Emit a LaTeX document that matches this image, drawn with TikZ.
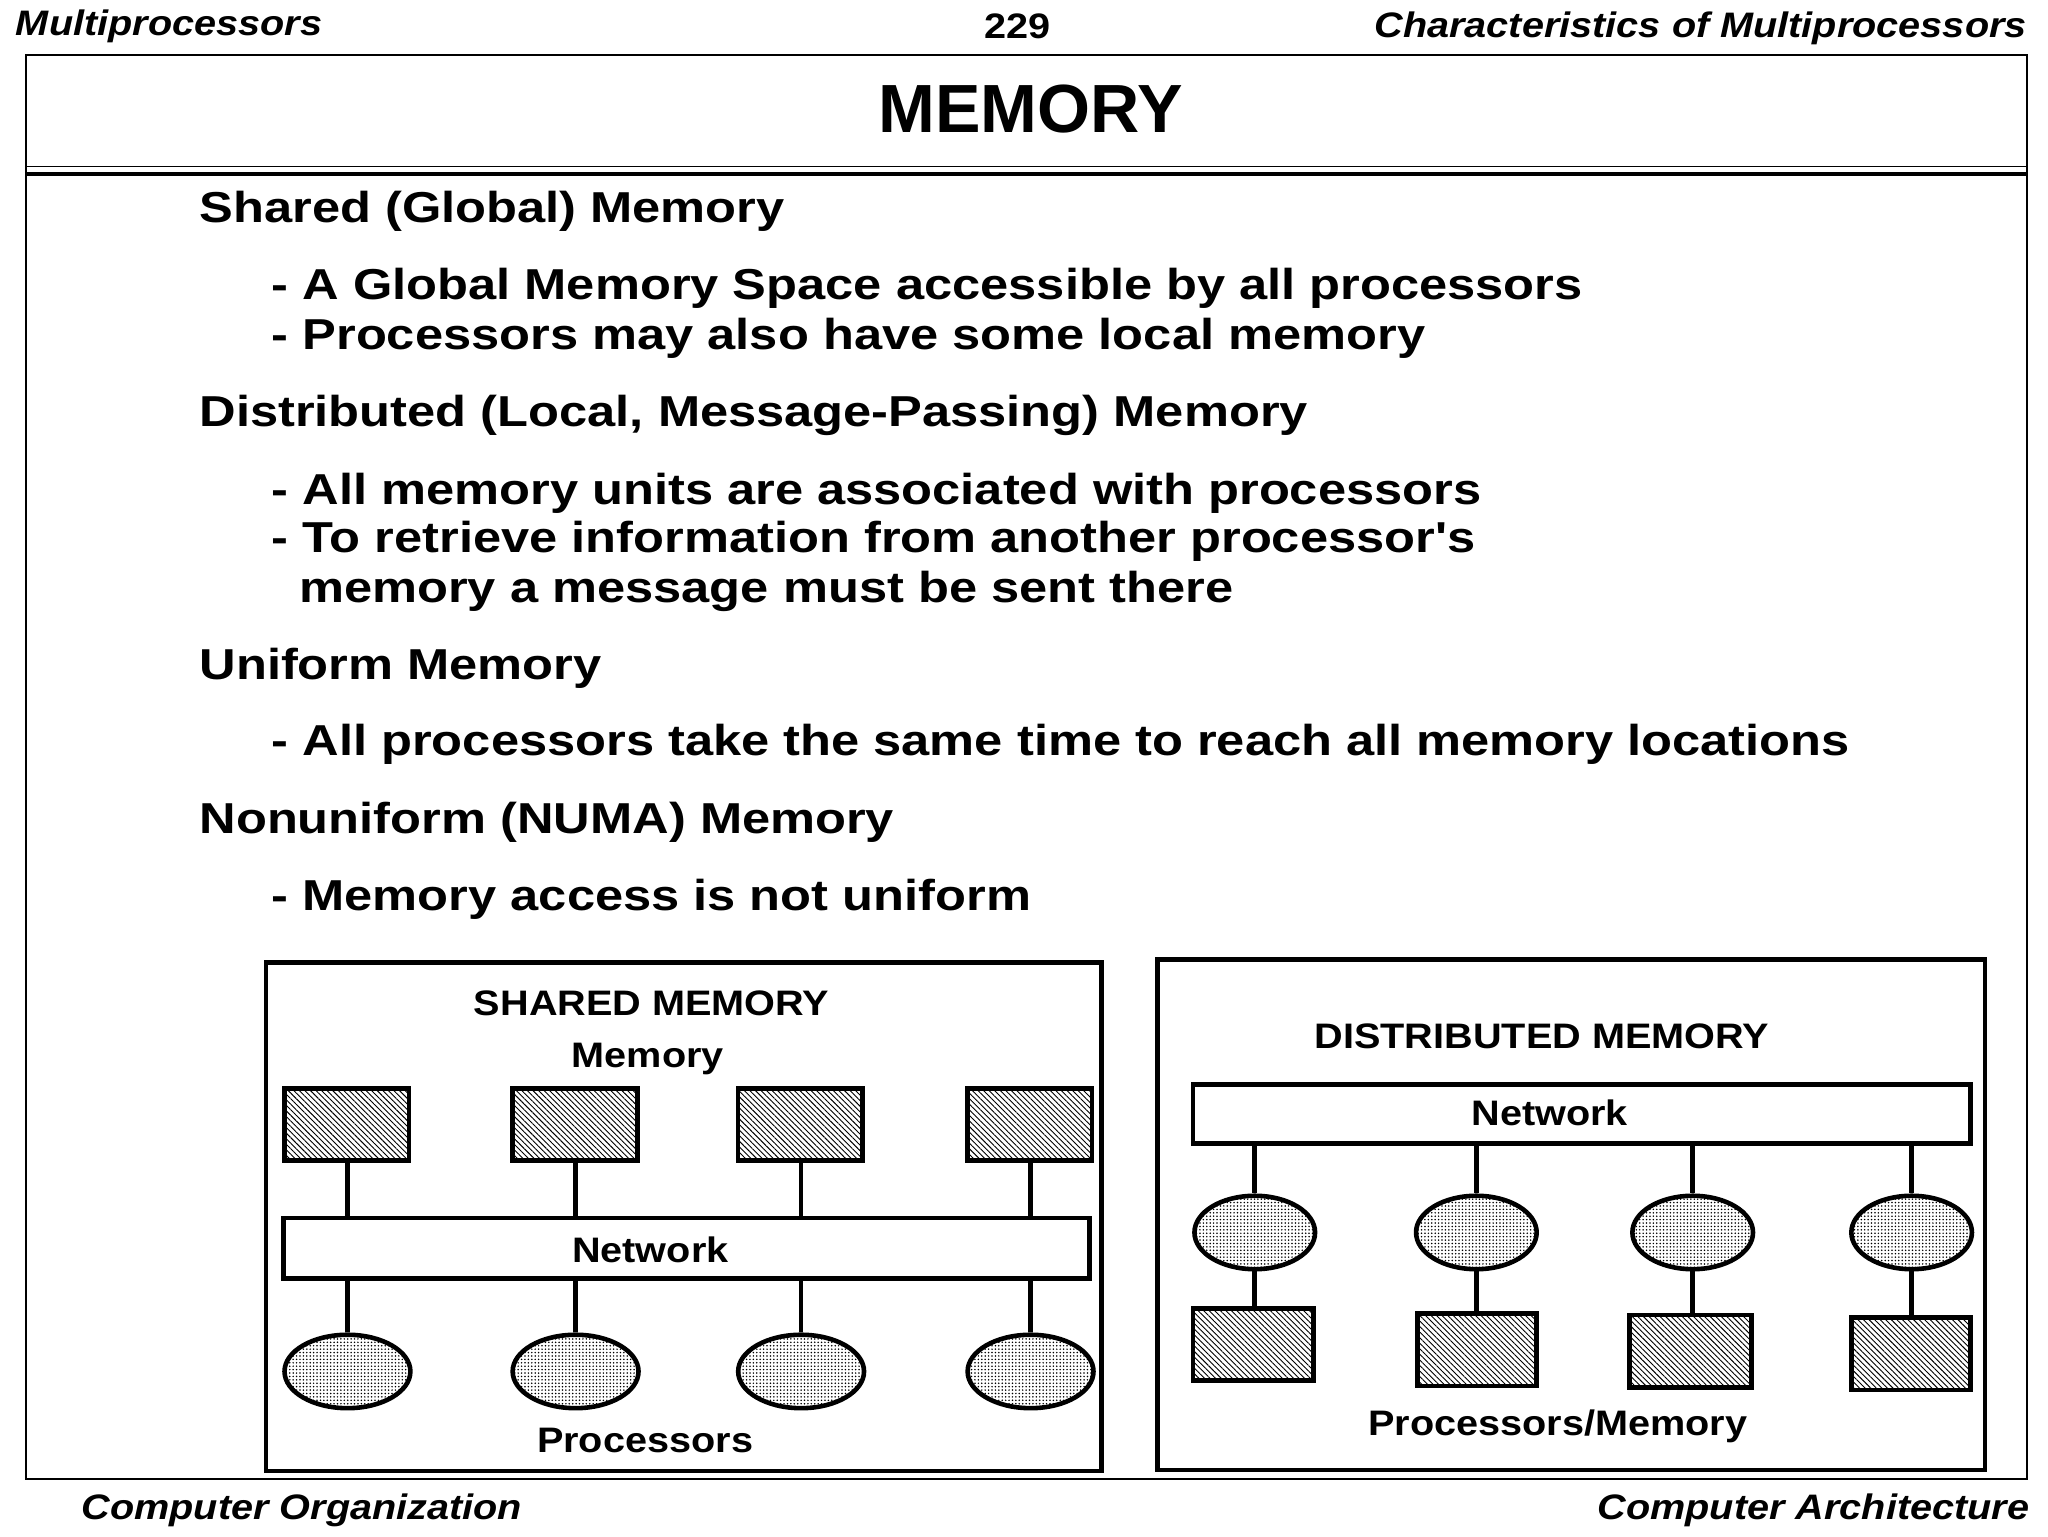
\documentclass[tikz,border=0pt]{standalone}
\usepackage{fontspec}
\setmainfont{Liberation Sans}
\newfontfamily\widea[FakeStretch=1.17]{Liberation Sans}
\newfontfamily\wideb[FakeStretch=1.12]{Liberation Sans}
\usetikzlibrary{patterns.meta,shapes.geometric}
\begin{document}
\begin{tikzpicture}[x=1pt,y=-1pt,
  hdr/.style={font=\wideb\fontsize{27}{30}\selectfont\bfseries\itshape,inner sep=0},
  body/.style={font=\widea\fontsize{33}{38}\selectfont\bfseries,anchor=west,inner sep=0},
  lbl/.style={font=\wideb\fontsize{27}{30}\selectfont\bfseries,inner sep=0},
  memrect/.style={draw,line width=3.5pt,pattern={Lines[angle=-45,distance=3pt,line width=0.7pt]}},
  proc/.style={ellipse,draw,line width=3.5pt,pattern={Dots[distance=2.6pt,radius=0.65pt]},minimum width=96pt,minimum height=56pt,inner sep=0},
  netbox/.style={draw,line width=3.5pt,fill=white},
  outer/.style={draw,line width=3.5pt},
  conn/.style={line width=3.5pt}]
\useasboundingbox (0,0) rectangle (1562,1172);
\fill[white] (0,0) rectangle (1562,1172);
% header
\node[hdr,anchor=west] (h1) at (12,20) {Multiprocessors};
\node[lbl] (h2) at (776,20) {229};
\node[hdr,anchor=east] (h3) at (1546,22) {Characteristics of Multiprocessors};
% frame
\draw[line width=1.5pt] (20,42) rectangle (1546,1128);
\draw[line width=1.5pt] (20,127) -- (1546,127);
\draw[line width=3pt] (20,133) -- (1546,133);
\node[font=\fontsize{52}{56}\selectfont\bfseries,inner sep=0] (title) at (786,83) {MEMORY};
% body
\node[body] (t1) at (152,161) {Shared (Global) Memory};
\node[body] (t2) at (207,220) {- A Global Memory Space accessible by all processors};
\node[body] (t3) at (207,258) {- Processors may also have some local memory};
\node[body] (t4) at (152,317) {Distributed (Local, Message-Passing) Memory};
\node[body] (t5) at (207,376) {- All memory units are associated with processors};
\node[body] (t6) at (207,413) {- To retrieve information from another processor's};
\node[body] (t7) at (228,451) {memory a message must be sent there};
\node[body] (t8) at (152,510) {Uniform Memory};
\node[body] (t9) at (207,568) {- All processors take the same time to reach all memory locations};
\node[body] (t10) at (152,627) {Nonuniform (NUMA) Memory};
\node[body] (t11) at (207,686) {- Memory access is not uniform};
% shared memory box
\draw[outer] (203,734) rectangle (840,1122);
\node[lbl] (smt) at (497,765) {SHARED MEMORY};
\node[lbl] (sml) at (494,808) {Memory};
\foreach \i/\x in {1/265,2/439,3/611,4/786}{
  \path[memrect] (\x-48,830) rectangle (\x+47,885);
  \coordinate (m\i) at (\x,885);
}
\draw[netbox] (216,929) rectangle (831,975);
\node[lbl] (snet) at (496,953) {Network};
\foreach \i/\x in {1/265,2/439,3/611,4/786}{
  \node[proc] (p\i) at (\x,1046) {};
  \draw[conn] (m\i) -- (\x,929);
  \draw[conn] (\x,975) -- (p\i.north);
}
\node[lbl] (spl) at (492,1099) {Processors};
% distributed memory box
\draw[outer] (883,732) rectangle (1514,1121);
\node[lbl] (dmt) at (1176,790) {DISTRIBUTED MEMORY};
\draw[netbox] (910,827) rectangle (1503,872);
\node[lbl] (dnet) at (1182,849) {Network};
\foreach \i/\x/\a/\b/\t in {1/957/910/1002/998,2/1126/1081/1172/1002,3/1291/1243/1336/1003,4/1458/1412/1503/1005}{
  \node[proc,minimum width=92pt] (q\i) at (\x,940) {};
  \path[memrect] (\a,\t) rectangle (\b,\t+55);
  \draw[conn] (\x,872) -- (q\i.north);
  \draw[conn] (q\i.south) -- (\x,\t);
}
\node[lbl] (dpl) at (1188,1088) {Processors/Memory};
% footer
\node[hdr,anchor=west] (f1) at (62,1152) {Computer Organization};
\node[hdr,anchor=east] (f2) at (1548,1152) {Computer Architecture};
\end{tikzpicture}
\end{document}
